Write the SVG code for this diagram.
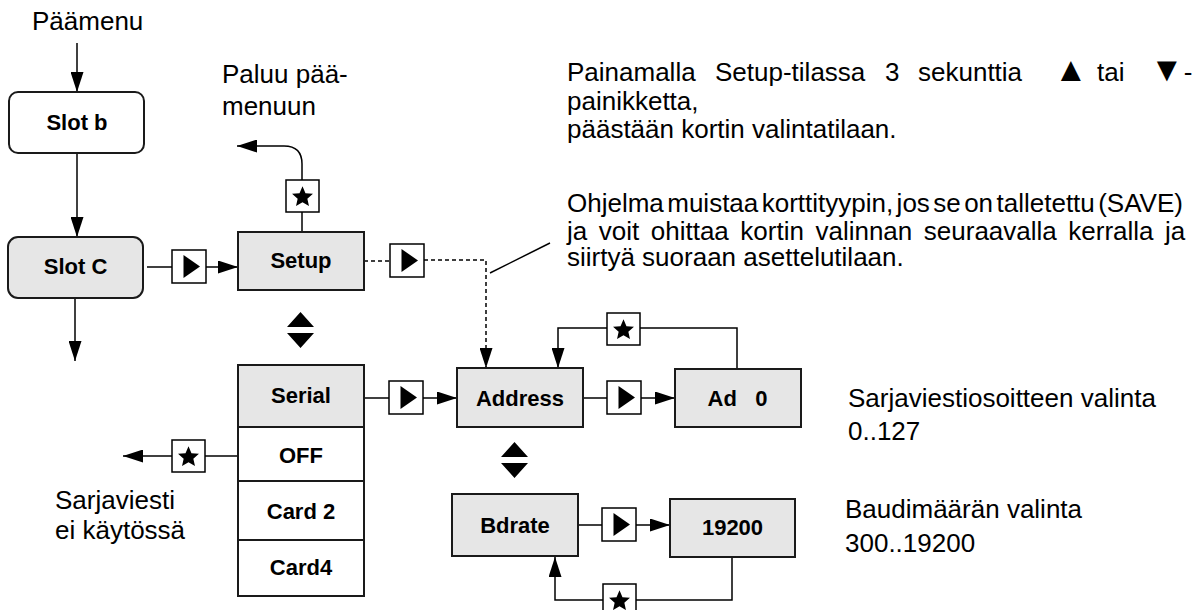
<svg xmlns="http://www.w3.org/2000/svg" xmlns:xlink="http://www.w3.org/1999/xlink" width="1194" height="610" viewBox="0 0 1194 610">
<style>
.box{fill:#fff;stroke:#1a1a1a;stroke-width:2}
.gbox{fill:#e6e6e6;stroke:#1a1a1a;stroke-width:2}
.lbl{font-family:"Liberation Sans",Arial,sans-serif;font-weight:bold;font-size:22px;fill:#000;text-anchor:middle}
.txt{font-family:"Liberation Sans",Arial,sans-serif;font-size:26px;fill:#000}
.sym{font-size:34px}
.ln{fill:none;stroke:#000;stroke-width:1.5}
.arr{marker-end:url(#ah)}
.dash{stroke-dasharray:4,3}
.btn{fill:#fff;stroke:#000;stroke-width:1.5}
</style>
<defs>
<marker id="ah" markerUnits="userSpaceOnUse" markerWidth="20" markerHeight="13" refX="20" refY="6.5" orient="auto" viewBox="0 0 20 13"><path d="M0,0 L20,6.5 L0,13 z" fill="#000"/></marker>
<g id="play"><rect class="btn" x="0" y="0" width="34" height="33"/><path d="M11.5,5 L28,16.5 L11.5,28 z" fill="#000"/></g>
<g id="star"><rect class="btn" x="0" y="0" width="33" height="32"/><path transform="translate(16.5,17.2) scale(1.1)" d="M0,-10 L2.7,-3.7 L9.511,-3.09 L4.4,1.43 L5.878,8.09 L0,4.6 L-5.878,8.09 L-4.4,1.43 L-9.511,-3.09 L-2.7,-3.7 z" fill="#000"/></g>
<g id="updown"><path d="M0,15 L13.5,0 L27,15 z M0,21 L27,21 L13.5,36 z" fill="#000"/></g>
</defs>
<rect width="1194" height="610" fill="#fff"/>

<g id="connectors">
<line class="ln arr" x1="77" y1="43" x2="77" y2="92"/>
<line class="ln arr" x1="77" y1="153" x2="77" y2="237"/>
<line class="ln arr" x1="75" y1="298" x2="75" y2="361"/>
<line class="ln" x1="147" y1="267" x2="172" y2="267"/>
<use xlink:href="#play" x="172" y="250"/>
<line class="ln arr" x1="206" y1="267" x2="238" y2="267"/>
<line class="ln" x1="302" y1="232" x2="302" y2="212"/>
<use xlink:href="#star" x="286" y="180"/>
<path class="ln arr" d="M302,180 L302,164 Q302,146 284,146 L237,146"/>
<line class="ln dash" x1="364" y1="261" x2="390" y2="261"/>
<use xlink:href="#play" x="390" y="244"/>
<path class="ln dash arr" d="M424,260 L486,260 L486,368"/>
<line class="ln" x1="490" y1="273" x2="550" y2="243" stroke-width="1"/>
<use xlink:href="#updown" x="287" y="312"/>
<line class="ln" x1="364" y1="398" x2="389" y2="398"/>
<use xlink:href="#play" x="389" y="381"/>
<line class="ln arr" x1="423" y1="398" x2="457" y2="398"/>
<line class="ln" x1="238" y1="456" x2="205" y2="456"/>
<use xlink:href="#star" x="172" y="440"/>
<line class="ln arr" x1="172" y1="456" x2="123" y2="456"/>
<line class="ln" x1="583" y1="398" x2="607" y2="398"/>
<use xlink:href="#play" x="607" y="381"/>
<line class="ln arr" x1="641" y1="398" x2="675" y2="398"/>
<path class="ln" d="M737,369 L737,328 L640,328"/>
<use xlink:href="#star" x="607" y="313"/>
<path class="ln arr" d="M607,328 L558,328 L558,368"/>
<use xlink:href="#updown" x="501" y="442"/>
<line class="ln" x1="578" y1="525" x2="602" y2="525"/>
<use xlink:href="#play" x="602" y="508"/>
<line class="ln arr" x1="636" y1="525" x2="670" y2="525"/>
<path class="ln" d="M732,557 L732,600 L636,600"/>
<use xlink:href="#star" x="603" y="584"/>
<path class="ln arr" d="M603,600 L555,600 L555,557"/>
</g>

<g id="slot-b"><rect class="box" x="9" y="92" width="135" height="61" rx="9"/><text class="lbl" x="77" y="130">Slot b</text></g>
<g id="slot-c"><rect class="gbox" x="8" y="237" width="135" height="61" rx="10"/><text class="lbl" x="75.5" y="274">Slot C</text></g>
<g id="setup"><rect class="gbox" x="238" y="232" width="126" height="58"/><text class="lbl" x="301" y="268">Setup</text></g>
<g id="serial"><rect class="gbox" x="238" y="365" width="126" height="62"/><text class="lbl" x="301" y="403">Serial</text></g>
<g id="off"><rect class="box" x="238" y="427" width="126" height="54"/><text class="lbl" x="301" y="463">OFF</text></g>
<g id="card2"><rect class="box" x="238" y="481" width="126" height="59"/><text class="lbl" x="301" y="519">Card 2</text></g>
<g id="card4"><rect class="box" x="238" y="540" width="126" height="56"/><text class="lbl" x="301" y="575">Card4</text></g>
<g id="address"><rect class="gbox" x="457" y="368" width="126" height="59"/><text class="lbl" x="520" y="406">Address</text></g>
<g id="ad0"><rect class="gbox" x="675" y="369" width="126" height="58"/><text class="lbl" x="737.5" y="406" xml:space="preserve">Ad   0</text></g>
<g id="bdrate"><rect class="gbox" x="452" y="494" width="126" height="62"/><text class="lbl" x="515" y="533">Bdrate</text></g>
<g id="b19200"><rect class="gbox" x="670" y="499" width="125" height="58"/><text class="lbl" x="732.5" y="535">19200</text></g>

<g id="labels">
<text class="txt" x="32" y="30">Päämenu</text>
<text class="txt" x="222" y="83">Paluu pää-</text>
<text class="txt" x="222" y="115">menuun</text>
<text class="txt" x="55" y="509">Sarjaviesti</text>
<text class="txt" x="55" y="539">ei käytössä</text>
<text class="txt" y="81"><tspan x="567">Painamalla</tspan><tspan x="715">Setup-tilassa</tspan><tspan x="885">3</tspan><tspan x="918">sekunttia</tspan><tspan x="1054" class="sym">▲</tspan><tspan x="1097">tai</tspan><tspan x="1150" class="sym">▼</tspan><tspan>-</tspan></text>
<text class="txt" x="567" y="110">painikketta,</text>
<text class="txt" x="567" y="138">päästään kortin valintatilaan.</text>
<text class="txt" x="567" y="212" word-spacing="-3.8">Ohjelma muistaa korttityypin, jos se on talletettu (SAVE)</text>
<text class="txt" x="567" y="240" word-spacing="4.3">ja voit ohittaa kortin valinnan seuraavalla kerralla ja</text>
<text class="txt" x="567" y="266">siirtyä suoraan asettelutilaan.</text>
<text class="txt" x="848" y="407">Sarjaviestiosoitteen valinta</text>
<text class="txt" x="848" y="440">0..127</text>
<text class="txt" x="845" y="518">Baudimäärän valinta</text>
<text class="txt" x="845" y="552">300..19200</text>
</g>
</svg>
